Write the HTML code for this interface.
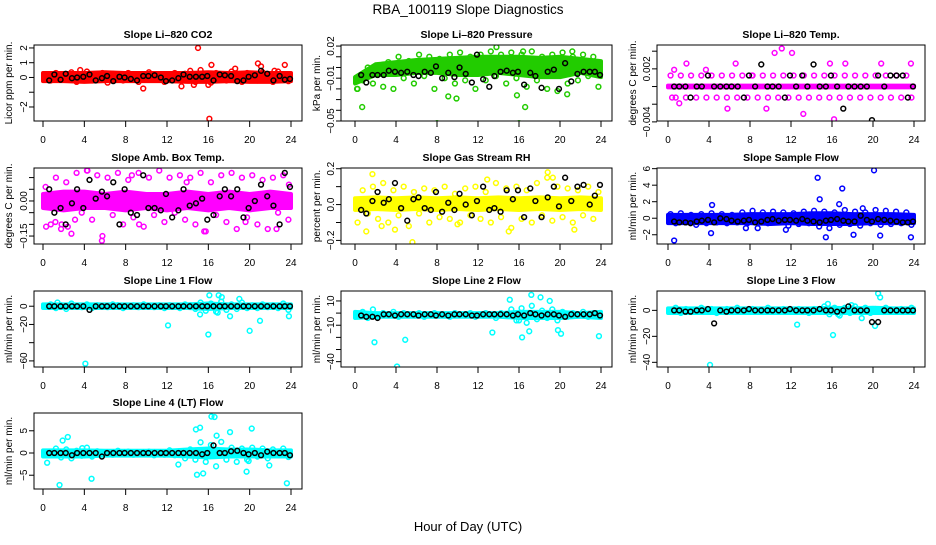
<!DOCTYPE html>
<html><head><meta charset="utf-8"><style>
html,body{margin:0;padding:0;background:#fff;}
svg text{font-family:"Liberation Sans",sans-serif;}
</style></head><body>
<svg id="chart" width="936" height="540" viewBox="0 0 936 540" xmlns="http://www.w3.org/2000/svg">
<text x="468" y="14" font-size="13.5" text-anchor="middle">RBA_100119  Slope Diagnostics</text>
<text x="468" y="531" font-size="13" text-anchor="middle">Hour of Day (UTC)</text>
</svg>
<script>
// shared hour arrays
const scatterHours=[0.25,0.75,1.25,1.75,2.25,2.75,3.25,3.75,4.25,4.75,5.25,5.75,6.25,6.75,7.25,7.75,8.25,8.75,9.25,9.75,10.25,10.75,11.25,11.75,12.25,12.75,13.25,13.75,14.25,14.75,15.25,15.75,16.25,16.75,17.25,17.75,18.25,18.75,19.25,19.75,20.25,20.75,21.25,21.75,22.25,22.75,23.25,23.75];
const blackHours=[0.6,1.1,1.7,2.2,2.8,3.3,3.9,4.5,5.1,5.7,6.2,6.8,7.4,7.9,8.5,9.1,9.7,10.2,10.8,11.4,11.9,12.5,13.1,13.6,14.2,14.8,15.4,15.9,16.5,17.1,17.6,18.2,18.8,19.4,19.9,20.5,21.1,21.7,22.3,22.9,23.4,23.9];
const bandHours=[0,2,4,6,8,10,12,14,16,18,20,22,24];
const xTicks=[0,4,8,12,16,20,24];

// CO2
const co2Scatter=[0.1,-0.2,0.3,0.2,-0.1,0.35,-0.3,0.2,0.4,-0.2,0.1,0.3,-0.35,0.25,0.1,-0.2,0.3,0.15,-0.3,0.2,0.35,-0.1,0.2,-0.3,0.1,0.3,-0.2,0.25,0.45,-0.3,0.5,0.2,-0.35,0.3,0.1,-0.2,0.4,0.25,-0.3,0.3,0.2,-0.2,0.35,0.1,-0.3,0.4,0.2,-0.25];
const co2Black=[-0.2,0.2,-0.15,0.25,-0.05,0.0,0.05,0.2,-0.2,-0.05,0.1,-0.25,0.05,0.0,-0.1,-0.2,0.1,0.1,0.15,0.0,-0.25,-0.2,-0.05,0.2,0.05,0.05,0.05,0.1,-0.2,0.2,0.15,0.1,-0.25,-0.2,0.05,0.15,0.45,0.25,-0.2,0.1,-0.15,-0.1];
const co2OutHours=[15.0,16.1,9.7,16.3,20.8,21.1,23.4,18.6,13.4,3.6,14.6,16.0,22.4];
const co2OutValues=[2.0,-2.8,-0.75,0.85,0.95,0.75,0.85,0.6,-0.6,0.5,-0.5,-0.5,0.45];
const co2BandLo=[-0.25,-0.25,-0.3,-0.25,-0.25,-0.25,-0.25,-0.3,-0.3,-0.25,-0.3,-0.3,-0.25];
const co2BandHi=[0.3,0.3,0.3,0.35,0.3,0.3,0.3,0.3,0.35,0.3,0.35,0.3,0.3];

// Pressure
const presScatter=[-0.02,-0.012,0.0,-0.015,0.002,-0.018,0.005,-0.02,0.01,-0.01,0.006,-0.015,0.012,-0.008,0.01,-0.02,0.008,-0.01,0.012,-0.015,0.014,-0.012,0.01,-0.02,0.012,-0.012,0.015,-0.008,0.012,-0.015,0.014,-0.01,0.012,-0.018,0.015,-0.012,0.01,-0.02,0.012,-0.022,0.014,-0.015,0.01,-0.012,0.012,-0.008,0.01,-0.018];
const presBlack=[-0.007,-0.014,-0.007,-0.007,-0.007,-0.003,-0.004,-0.005,-0.004,-0.007,-0.008,-0.004,-0.005,0.001,-0.01,-0.005,-0.009,0.0,-0.006,-0.014,0.012,-0.011,-0.018,-0.008,-0.004,-0.003,-0.005,-0.004,-0.016,-0.005,-0.008,-0.019,-0.004,-0.002,-0.02,0.004,-0.013,-0.006,-0.004,-0.004,-0.004,-0.007];
const presOutHours=[0.7,8.0,16.0,23.9,16.6,9.1,9.9,13.8,16.4,21.2,20.7,0.2,15.8];
const presOutValues=[-0.037,-0.052,-0.052,-0.054,-0.037,-0.027,-0.029,0.019,0.015,0.015,-0.025,-0.02,-0.026];
const presBandLo=[-0.015,-0.007,-0.007,-0.005,-0.005,-0.007,-0.007,-0.005,-0.007,-0.009,-0.009,-0.005,-0.009];
const presBandHi=[-0.009,0.003,0.005,0.007,0.008,0.009,0.01,0.01,0.01,0.009,0.01,0.008,0.006];

// Li-820 Temp
const tempScatter=[0.00125,-0.00125,0.00125,-0.00125,0.00125,-0.00125,0.00125,-0.00125,0.00125,-0.00125,0.00125,-0.00125,0.00125,-0.00125,0.00125,-0.00125,0.00125,-0.00125,0.00125,-0.00125,0.00125,-0.00125,0.00125,-0.00125,0.00125,-0.00125,0.00125,-0.00125,0.00125,-0.00125,0.00125,-0.00125,0.00125,-0.00125,0.00125,-0.00125,0.00125,-0.00125,0.00125,-0.00125,0.00125,-0.00125,0.00125,-0.00125,0.00125,-0.00125,0.00125,-0.00125];
const tempBlack=[0,0,0,-0.00125,0,0,0.00125,0,0,0,0,0,-0.00125,0.00125,0,0.0025,0,0,0,-0.00125,0.00125,0,0.00125,0,0.0025,0,0,0.00125,0,-0.0025,0,0,0,0,-0.0038,0.00125,0,0.00125,0.00125,0.00125,-0.00125,0];
const tempOutHours=[0.6,1.8,3.7,6.6,10.4,11.1,12.1,13.2,16.2,17.3,20.8,23.7,1.1,5.8,9.6,0.4,8.2,15.8];
const tempOutValues=[0.0019,0.0026,0.0019,0.0026,0.0038,0.0043,0.0038,-0.0031,-0.0037,0.0026,0.0026,0.0026,-0.0019,-0.0025,-0.0025,-0.00125,0.00125,0.0026];
const tempBandLo=[-0.0001,-0.0001,-0.0001,-0.0001,-0.0001,-0.0001,-0.0001,-0.0001,-0.0001,-0.0001,-0.0001,-0.0001,-0.0001];
const tempBandHi=[0.0001,0.0001,0.0001,0.0001,0.0001,0.0001,0.0001,0.0001,0.0001,0.0001,0.0001,0.0001,0.0001];

// Amb Box Temp
const ambScatter=[0.06,-0.1,0.1,-0.12,0.08,-0.14,0.12,-0.05,0.13,-0.08,0.11,-0.15,0.1,-0.06,0.12,-0.1,0.09,-0.07,0.12,-0.11,0.1,-0.06,0.13,-0.09,0.1,-0.05,0.11,-0.08,0.1,-0.1,0.12,-0.13,0.08,-0.06,0.11,-0.09,0.12,-0.12,0.1,-0.07,0.11,-0.1,0.09,-0.12,0.1,-0.05,0.11,-0.08];
const ambBlack=[0.05,-0.05,-0.03,-0.1,-0.01,0.05,-0.03,0.09,0.01,0.04,0.02,0.08,-0.1,0.05,-0.05,-0.06,0.11,-0.03,-0.03,-0.04,0.03,-0.07,-0.04,0.05,-0.02,-0.01,0.01,-0.08,-0.06,0.02,0.05,0.02,0.05,-0.07,-0.03,0.0,0.07,0.02,-0.02,-0.1,0.12,0.06];
const ambOutHours=[0.3,1.2,1.8,2.4,4.3,5.7,13.9,15.6,19.6,22.6,23.8,3.1,9.3,8.6];
const ambOutValues=[-0.11,-0.09,-0.1,-0.11,0.13,-0.17,0.08,-0.13,-0.09,-0.12,0.07,-0.08,-0.1,0.11];
const ambBandLo=[-0.03,-0.04,-0.03,-0.03,-0.04,-0.03,-0.04,-0.03,-0.04,-0.03,-0.04,-0.03,-0.03];
const ambBandHi=[0.03,0.04,0.04,0.03,0.04,0.03,0.03,0.04,0.03,0.04,0.03,0.04,0.03];

// Gas Stream RH
const rhScatter=[-0.1,0.08,-0.05,0.1,-0.08,0.12,-0.1,0.08,-0.06,0.1,-0.12,0.07,-0.05,0.09,-0.1,0.08,-0.07,0.1,-0.08,0.06,-0.1,0.09,-0.06,0.1,-0.08,0.07,-0.1,0.12,-0.07,0.09,-0.13,0.1,-0.08,0.08,-0.1,0.12,-0.06,0.15,-0.09,0.1,-0.07,0.09,-0.1,0.08,-0.06,0.1,-0.08,0.07];
const rhBlack=[-0.03,-0.05,0.02,0.07,0.01,0.03,0.12,-0.02,-0.09,0.03,0.04,-0.02,-0.03,0.07,-0.04,0.01,-0.03,0.06,0.0,-0.06,0.02,0.1,-0.03,-0.02,-0.04,0.08,0.03,0.08,-0.07,0.09,0.02,-0.07,0.04,0.1,-0.01,0.15,0.02,0.1,0.11,0.0,0.05,0.11];
const rhOutHours=[1.7,3.9,5.6,1.1,18.8,15.0,12.9,19.3,21.4,10.0,2.6];
const rhOutValues=[0.17,-0.14,-0.21,-0.15,0.18,-0.15,0.14,0.15,-0.14,-0.11,-0.12];
const rhBandLo=[-0.03,-0.025,-0.03,-0.025,-0.03,-0.025,-0.03,-0.025,-0.03,-0.025,-0.03,-0.025,-0.03];
const rhBandHi=[0.035,0.04,0.035,0.04,0.035,0.04,0.035,0.04,0.035,0.04,0.035,0.04,0.035];

// Sample Flow
const flowScatter=[0.5,-0.6,0.6,-0.5,0.4,-0.8,0.5,-0.6,0.6,-0.5,0.5,-0.6,0.4,-0.5,0.7,-0.6,0.9,-1.2,0.7,-0.6,0.8,-0.5,0.7,-0.9,0.6,-0.7,0.8,-0.6,0.9,-1.0,0.8,-1.2,0.7,-0.8,1.0,-0.7,0.8,-0.9,0.7,-0.6,1.0,-0.8,0.9,-0.7,0.8,-0.6,0.7,-0.8];
const flowBlack=[-0.4,-0.5,-0.5,-0.6,-0.4,-0.3,-0.2,-0.5,0.0,-0.1,-0.3,-0.4,-0.3,-0.2,-0.5,-0.4,-0.2,-0.1,-0.3,-0.2,-0.2,-0.3,-0.1,-0.3,-0.4,-0.5,-0.3,-0.2,-0.1,-0.3,-0.4,-0.4,0.3,-0.2,-0.4,-0.1,-0.2,-0.3,-0.4,-0.5,-0.5,-0.4];
const flowOutHours=[14.6,20.1,17.0,0.6,14.8,4.3,16.7,19.0,18.1,20.7,23.7,4.2,15.4,11.5,7.6];
const flowOutValues=[4.9,5.8,3.6,-2.7,2.3,1.6,1.7,1.2,-2.0,-2.1,-2.3,-1.8,-2.3,-1.4,-1.2];
const flowBandLo=[-0.6,-0.6,-0.6,-0.6,-0.6,-0.7,-0.6,-0.7,-0.7,-0.7,-0.6,-0.6,-0.6];
const flowBandHi=[0.4,0.4,0.4,0.4,0.5,0.5,0.5,0.6,0.6,0.5,0.5,0.5,0.4];

// Line 1 Flow
const l1Scatter=[0,2,-2,1,-3,3,0,-1,2,-2,1,0,-1,2,1,-2,0,1,-1,2,0,-1,1,-2,1,0,-2,2,1,-3,4,-5,3,-6,5,-4,2,-3,4,-2,1,-2,2,-1,1,-2,3,-4];
const l1Black=[0,0,0,0,0,0,0,-4,0,0,0,0,0,0,0,0,0,0,0,0,0,0,0,0,0,0,0,0,0,0,0,0,0,0,0,0,0,0,0,0,0,0];
const l1OutHours=[4.1,12.1,16.0,20.0,21.0,16.1,17.3,17.0,19.0,15.2,18.1,23.8,16.9,1.4];
const l1OutValues=[-63,-21,-31,-27,-16,12,10,12,8,-9,-11,-11,-7,4];
const l1BandLo=[-2,-2,-2,-2,-2,-2,-2,-2,-3,-2,-2,-2,-2];
const l1BandHi=[2,2,2,2,2,2,2,2,3,2,2,2,2];

// Line 2 Flow
const l2Scatter=[-2,1,-4,3,-3,0,-2,1,-3,0,-1,-2,0,-3,-1,0,-2,-1,-3,0,-1,-2,0,-3,-1,0,-2,-4,0,-2,3,-6,4,-8,6,-5,2,-4,3,-6,1,-3,0,-2,1,-3,0,-2];
const l2Black=[-2,-3,-3,-4,-1,-1,-2,-1,-1,-1,-2,-1,-1,-2,-1,-2,-1,-1,-1,-2,-2,-1,-1,-1,-1,-1,-2,-1,-2,0,-1,-2,-1,-1,-2,-3,-1,-1,-1,-1,0,-2];
const l2OutHours=[4.1,1.9,17.2,15.1,19.0,18.1,13.4,17.0,23.8,16.3,20.1,19.8,16.0,4.9];
const l2OutValues=[-44,-24,15,11,10,13,-16,-15,-19,-20,-17,-14,-6,-22];
const l2BandLo=[-4,-3,-3,-3,-3,-3,-3,-3,-4,-4,-4,-3,-4];
const l2BandHi=[1,0,0,0,0,0,0,0,1,1,1,0,1];

// Line 3 Flow
const l3Scatter=[0,2,-2,1,-1,0,2,-1,1,-2,0,1,-1,2,0,-1,1,0,-1,2,0,-1,1,0,-1,1,0,-2,1,-1,3,-3,2,-4,2,-2,3,-1,2,-2,1,-1,2,-1,0,1,-1,2];
const l3Black=[0,0,-1,-1,0,0,1,-10,0,-1,0,0,0,1,0,0,0,0,0,0,1,0,0,0,0,1,0,0,-1,0,3,0,0,0,-9,-9,0,0,0,0,0,0];
const l3OutHours=[4.1,12.6,16.1,20.2,20.5,20.7,17.9,16.6,18.9,15.6];
const l3OutValues=[-42,-11,-19,-12,13,10,4,-3,-6,5];
const l3BandLo=[-2,-2,-2,-2,-2,-2,-2,-2,-2,-2,-2,-2,-2];
const l3BandHi=[1.5,1.5,1.5,1.5,1.5,1.5,1.5,1.5,2,1.5,2,1.5,1.5];

// Line 4 (LT) Flow
const l4Scatter=[0.3,-0.5,1,-1,0.8,-1.2,0.5,-0.6,1.2,-0.8,0.4,-0.3,0.2,-0.4,0.5,-0.2,0.3,-0.4,0.2,-0.3,0.3,-0.5,0.2,-0.4,0.6,-0.5,0.4,-1.2,0.8,-1.5,2.4,-2,1.8,-3,2.5,-1.5,1.2,-2,1,-1.5,1.2,-0.8,1,-1.2,0.8,-0.5,1,-0.9];
const l4Black=[0,0,0,0,-0.5,0,0,0,0,-0.8,0,0,0,0,0,0,0,0,0,0,0,0,0,0,0,0,-0.3,0,1.7,0,0,0.4,0.5,0,-0.3,0,-0.5,0.3,0,0,0,-0.5];
const l4OutHours=[1.6,23.6,16.3,16.6,14.8,15.2,20.2,18.1,2.4,0.4,13.1,14.9,15.5,19.9,21.9,4.7,19.7,3.8,16.8,1.9];
const l4OutValues=[-7.2,-6.8,8.2,8.1,5.3,5.7,5.5,4.7,3.6,-2.2,-2.6,-4.9,-4.6,-1.8,-2.8,-5.8,-4.2,1.1,3.9,2.8];
const l4BandLo=[-0.8,-0.8,-0.8,-0.6,-0.6,-0.6,-0.6,-0.8,-1,-0.8,-0.8,-0.8,-0.8];
const l4BandHi=[0.6,0.6,0.6,0.5,0.5,0.5,0.5,0.8,1,0.8,0.8,0.6,0.6];

// y tick values / labels
const co2TickVals=[-2,-1,0,1,2], co2TickLabels=["\u22122","","0","1","2"];
const presTickVals=[-0.05,-0.04,-0.03,-0.02,-0.01,0,0.01,0.02], presTickLabels=["\u22120.05","","","","\u22120.01","","","0.02"];
const tempTickVals=[-0.004,-0.002,0,0.002,0.004], tempTickLabels=["\u22120.004","","","0.002",""];
const ambTickVals=[-0.15,-0.1,-0.05,0,0.05,0.1], ambTickLabels=["\u22120.15","","","0.00","",""];
const rhTickVals=[-0.2,-0.1,0,0.1,0.2], rhTickLabels=["\u22120.2","","0.0","","0.2"];
const flowTickVals=[-2,0,2,4,6], flowTickLabels=["\u22122","0","2","4","6"];
const l1TickVals=[-60,-40,-20,0], l1TickLabels=["\u221260","","\u221220","0"];
const l2TickVals=[-40,-30,-20,-10,0,10], l2TickLabels=["\u221240","","","\u221210","","10"];
const l3TickVals=[-40,-20,0], l3TickLabels=["\u221240","\u221220","0"];
const l4TickVals=[-5,0,5], l4TickLabels=["\u22125","0","5"];

const NS="http://www.w3.org/2000/svg";
const svg=document.getElementById('chart');
function el(tag,attrs,parent){const e=document.createElementNS(NS,tag);for(const k in attrs)e.setAttribute(k,attrs[k]);(parent||svg).appendChild(e);return e;}

const cols=[{l:34,r:302,x0:43,x24:291,lab:12},{l:341,r:612,x0:355,x24:601,lab:320},{l:657,r:925,x0:668,x24:914,lab:636}];
const rows=[45,168,291,413];
const H=76;

const panels=[
 {id:'co2',title:'Slope Li\u2013820 CO2',ylab:'Licor ppm per min.',color:'#ff0000',c:0,r:0,ymin:-2.95,ymax:2.2,sc:co2Scatter,bk:co2Black,oh:co2OutHours,ov:co2OutValues,bl:co2BandLo,bh:co2BandHi,tv:co2TickVals,tl:co2TickLabels},
 {id:'pressure',title:'Slope Li\u2013820 Pressure',ylab:'kPa per min.',color:'#22cc00',c:1,r:0,ymin:-0.05,ymax:0.021,sc:presScatter,bk:presBlack,oh:presOutHours,ov:presOutValues,bl:presBandLo,bh:presBandHi,tv:presTickVals,tl:presTickLabels},
 {id:'li820-temp',title:'Slope Li\u2013820 Temp.',ylab:'degrees C per min.',color:'#ff00ff',c:2,r:0,ymin:-0.0039,ymax:0.0047,sc:tempScatter,bk:tempBlack,oh:tempOutHours,ov:tempOutValues,bl:tempBandLo,bh:tempBandHi,tv:tempTickVals,tl:tempTickLabels},
 {id:'amb-box-temp',title:'Slope Amb. Box Temp.',ylab:'degrees C per min.',color:'#ff00ff',c:0,r:1,ymin:-0.184,ymax:0.141,sc:ambScatter,bk:ambBlack,oh:ambOutHours,ov:ambOutValues,bl:ambBandLo,bh:ambBandHi,tv:ambTickVals,tl:ambTickLabels},
 {id:'gas-stream-rh',title:'Slope Gas Stream RH',ylab:'percent per min.',color:'#ffff00',c:1,r:1,ymin:-0.22,ymax:0.204,sc:rhScatter,bk:rhBlack,oh:rhOutHours,ov:rhOutValues,bl:rhBandLo,bh:rhBandHi,tv:rhTickVals,tl:rhTickLabels},
 {id:'sample-flow',title:'Slope Sample Flow',ylab:'ml/min per min.',color:'#0000ff',c:2,r:1,ymin:-3.12,ymax:6.08,sc:flowScatter,bk:flowBlack,oh:flowOutHours,ov:flowOutValues,bl:flowBandLo,bh:flowBandHi,tv:flowTickVals,tl:flowTickLabels},
 {id:'line1-flow',title:'Slope Line 1 Flow',ylab:'ml/min per min.',color:'#00ffff',c:0,r:2,ymin:-66.7,ymax:16.7,sc:l1Scatter,bk:l1Black,oh:l1OutHours,ov:l1OutValues,bl:l1BandLo,bh:l1BandHi,tv:l1TickVals,tl:l1TickLabels},
 {id:'line2-flow',title:'Slope Line 2 Flow',ylab:'ml/min per min.',color:'#00ffff',c:1,r:2,ymin:-44.4,ymax:18.2,sc:l2Scatter,bk:l2Black,oh:l2OutHours,ov:l2OutValues,bl:l2BandLo,bh:l2BandHi,tv:l2TickVals,tl:l2TickLabels},
 {id:'line3-flow',title:'Slope Line 3 Flow',ylab:'ml/min per min.',color:'#00ffff',c:2,r:2,ymin:-43.6,ymax:14.9,sc:l3Scatter,bk:l3Black,oh:l3OutHours,ov:l3OutValues,bl:l3BandLo,bh:l3BandHi,tv:l3TickVals,tl:l3TickLabels},
 {id:'line4-flow',title:'Slope Line 4 (LT) Flow',ylab:'ml/min per min.',color:'#00ffff',c:0,r:3,ymin:-8.1,ymax:9.0,sc:l4Scatter,bk:l4Black,oh:l4OutHours,ov:l4OutValues,bl:l4BandLo,bh:l4BandHi,tv:l4TickVals,tl:l4TickLabels}
];

panels.forEach(p=>{
  const col=cols[p.c], top=rows[p.r], bot=top+H;
  const xs=h=>col.x0+(col.x24-col.x0)*h/24;
  const ys=v=>bot-(v-p.ymin)/(p.ymax-p.ymin)*H;
  const g=el('g',{});
  
  
  const cx=(col.l+col.r)/2;
  const t=el('text',{x:cx,y:top-7,'font-size':'10.5','font-weight':'bold','text-anchor':'middle'},g);
  t.textContent=p.title;
  
  
  const yl=el('text',{x:col.lab,y:top+H/2,'font-size':'10','text-anchor':'middle',transform:`rotate(-90 ${col.lab} ${top+H/2})`},g);
  yl.textContent=p.ylab;
  
  
  const cid='clip-'+p.id;
  const cp=el('clipPath',{id:cid},g);
  el('rect',{x:col.l,y:top,width:col.r-col.l,height:H},cp);
  const data=el('g',{'clip-path':`url(#${cid})`},g);
  let pts=bandHours.map((h,i)=>xs(h)+','+ys(p.bh[i]));
  pts=pts.concat(bandHours.slice().reverse().map((h,i)=>xs(h)+','+ys(p.bl[bandHours.length-1-i])));
  const band=el('polygon',{points:pts.join(' '),fill:p.color,stroke:p.color,'stroke-width':'4','stroke-linejoin':'round'},data);
  
  
  const addPt=(h,v,c,name)=>{
    const cc=el('circle',{cx:xs(h),cy:ys(v),r:2.4,fill:'none',stroke:c,'stroke-width':'1.5'},data);
    
    
  };
  p.sc.forEach((v,i)=>addPt(scatterHours[i],v,p.color,p.id+'-point'));
  p.oh.forEach((h,i)=>addPt(h,p.ov[i],p.color,p.id+'-outlier'));
  p.bk.forEach((v,i)=>addPt(blackHours[i],v,'#000',p.id+'-mean-point'));
  const box=el('rect',{x:col.l,y:top,width:col.r-col.l,height:H,fill:'none',stroke:'#000','stroke-width':'1'},g);
  
  
  // x axis
  xTicks.forEach(h=>{
    el('line',{x1:xs(h),x2:xs(h),y1:bot,y2:bot+6,stroke:'#000'},g);
    const tx=el('text',{x:xs(h),y:bot+22,'font-size':'10','text-anchor':'middle'},g);
    tx.textContent=String(h);
    
    
  });
  // y axis
  const ax=col.l;
  p.tv.forEach((v,i)=>{
    el('line',{x1:ax-5,x2:ax,y1:ys(v),y2:ys(v),stroke:'#000'},g);
    if(p.tl[i]){
      const lx=ax-7, ly=ys(v);
      const ty=el('text',{x:lx,y:ly,'font-size':'10','text-anchor':'middle',transform:`rotate(-90 ${lx} ${ly})`},g);
      ty.textContent=p.tl[i];
      
      
    }
  });
});
</script>
</body></html>
